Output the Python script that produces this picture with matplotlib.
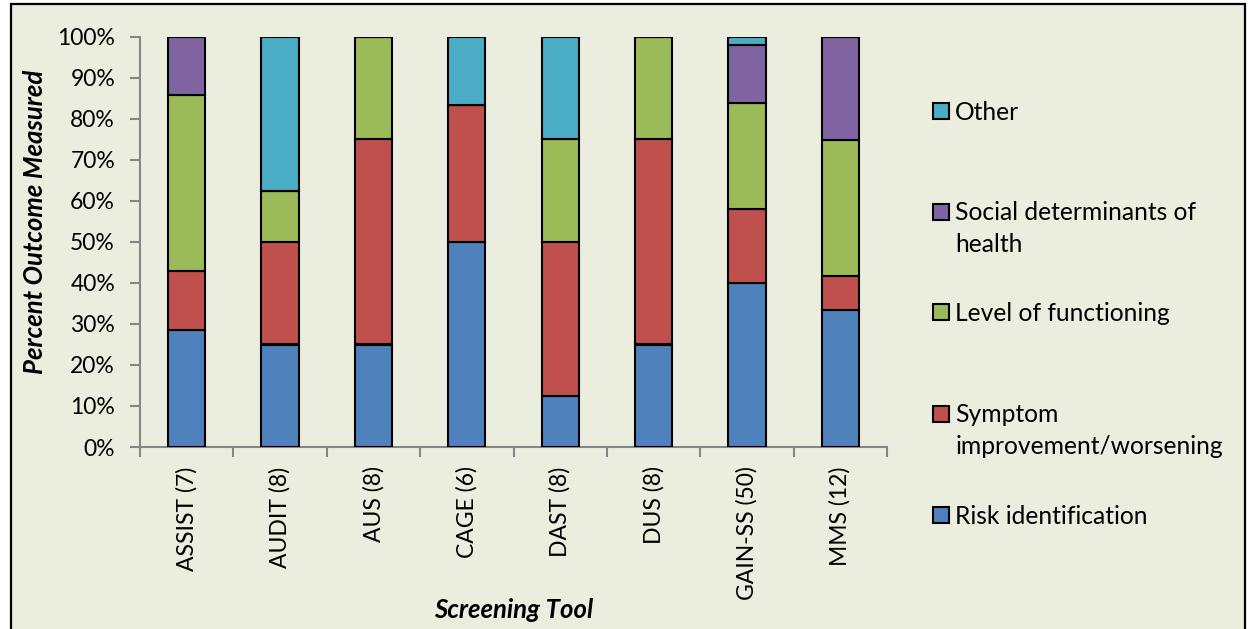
import matplotlib
matplotlib.use("Agg")
import matplotlib.pyplot as plt
from matplotlib.patches import Rectangle
import numpy as np

tools = ["ASSIST (7)", "AUDIT (8)", "AUS (8)", "CAGE (6)", "DAST (8)", "DUS (8)", "GAIN-SS (50)", "MMS (12)"]
series_names = [["Risk identification"], ["Symptom", "improvement/worsening"], ["Level of functioning"],
                ["Social determinants of", "health"], ["Other"]]
risk = [28.6, 25.0, 25.0, 50.0, 12.5, 25.0, 40.0, 33.3]
symptom = [14.3, 25.0, 50.0, 33.3, 37.5, 50.0, 18.0, 8.3]
functioning = [42.9, 12.5, 25.0, 0.0, 25.0, 25.0, 26.0, 33.3]
social = [14.3, 0.0, 0.0, 0.0, 0.0, 0.0, 14.0, 25.1]
other = [0.0, 37.5, 0.0, 16.7, 25.0, 0.0, 2.0, 0.0]
yticks = [0, 10, 20, 30, 40, 50, 60, 70, 80, 90, 100]

colors = ["#4F81BD", "#C0504D", "#9BBB59", "#8064A2", "#4BACC6"]
bg = "#EBEEDF"
grey = "#868686"

plt.rcParams["font.family"] = ["Lato", "DejaVu Sans"]

W, H = 1248, 629
fig = plt.figure(figsize=(W / 100, H / 100), dpi=100, facecolor="white")
fig.patches.append(Rectangle((11 / W, -0.05), (1245 - 11) / W, 1.05 - 4 / H,
                             transform=fig.transFigure, facecolor=bg, edgecolor="black",
                             linewidth=1.6, zorder=-5))

ax = fig.add_axes([140 / W, 1 - 447 / H, (887 - 140) / W, (447 - 37) / H])
ax.set_zorder(2)
ax.set_facecolor("none")

x = np.arange(len(tools))
bottom = np.zeros(len(tools))
handles = []
for vals, col, name in zip([risk, symptom, functioning, social, other], colors, series_names):
    v = np.array(vals)
    b = ax.bar(x, v, 0.4, bottom=bottom, color=col, edgecolor="black", linewidth=1.5,
               label=" ".join(name), zorder=3)
    handles.append(b)
    bottom += v

ax.set_xlim(-0.5, len(tools) - 0.5)
ax.set_ylim(0, 100)
ax.set_yticks(yticks)
ax.set_yticklabels([f"{t}%" for t in yticks], fontsize=16.5)
ax.set_xticks(x)
ax.set_xticklabels(tools, rotation=90, fontsize=16.5, va="top")
ax.set_xticks(np.arange(-0.5, len(tools), 1.0), minor=True)
ax.tick_params(axis="x", which="major", length=0, pad=14)
ax.tick_params(axis="x", which="minor", length=7, color=grey, width=1.5)
ax.tick_params(axis="y", length=7, color=grey, width=1.5, pad=11)

for s in ["top", "right"]:
    ax.spines[s].set_visible(False)
for s in ["left", "bottom"]:
    ax.spines[s].set_color(grey)
    ax.spines[s].set_linewidth(1.5)

fig.text(35 / W, 1 - 222 / H, "Percent Outcome Measured", fontsize=18.5, fontweight="bold",
         style="italic", rotation=90, ha="center", va="center")
fig.text(514 / W, 1 - 610 / H, "Screening Tool", fontsize=18.5, fontweight="bold",
         style="italic", ha="center", va="center")

# one legend entry per slot; the box lines up with the first line of a wrapped label
legend_y = [516, 415, 313, 213, 112]
line_step = 32
fig.canvas.draw()
renderer = fig.canvas.get_renderer()
for h, name, ypix in zip(handles, series_names, legend_y):
    leg = fig.legend([h], [name[0]], loc="center left",
                     bbox_to_anchor=(933 / W, 1 - ypix / H), frameon=False, fontsize=17.7,
                     handlelength=0.66, handleheight=0.66, handletextpad=0.25,
                     borderaxespad=0, borderpad=0)
    for p in leg.get_patches():
        p.set_linewidth(1.5)
    if len(name) > 1:
        fig.canvas.draw()
        x0 = leg.get_texts()[0].get_window_extent(renderer).x0
        for k, extra in enumerate(name[1:], start=1):
            fig.text(x0 / W, 1 - (ypix + k * line_step) / H, extra, fontsize=17.7,
                     ha="left", va="center")

fig.savefig("out.png", dpi=100, facecolor="white")
